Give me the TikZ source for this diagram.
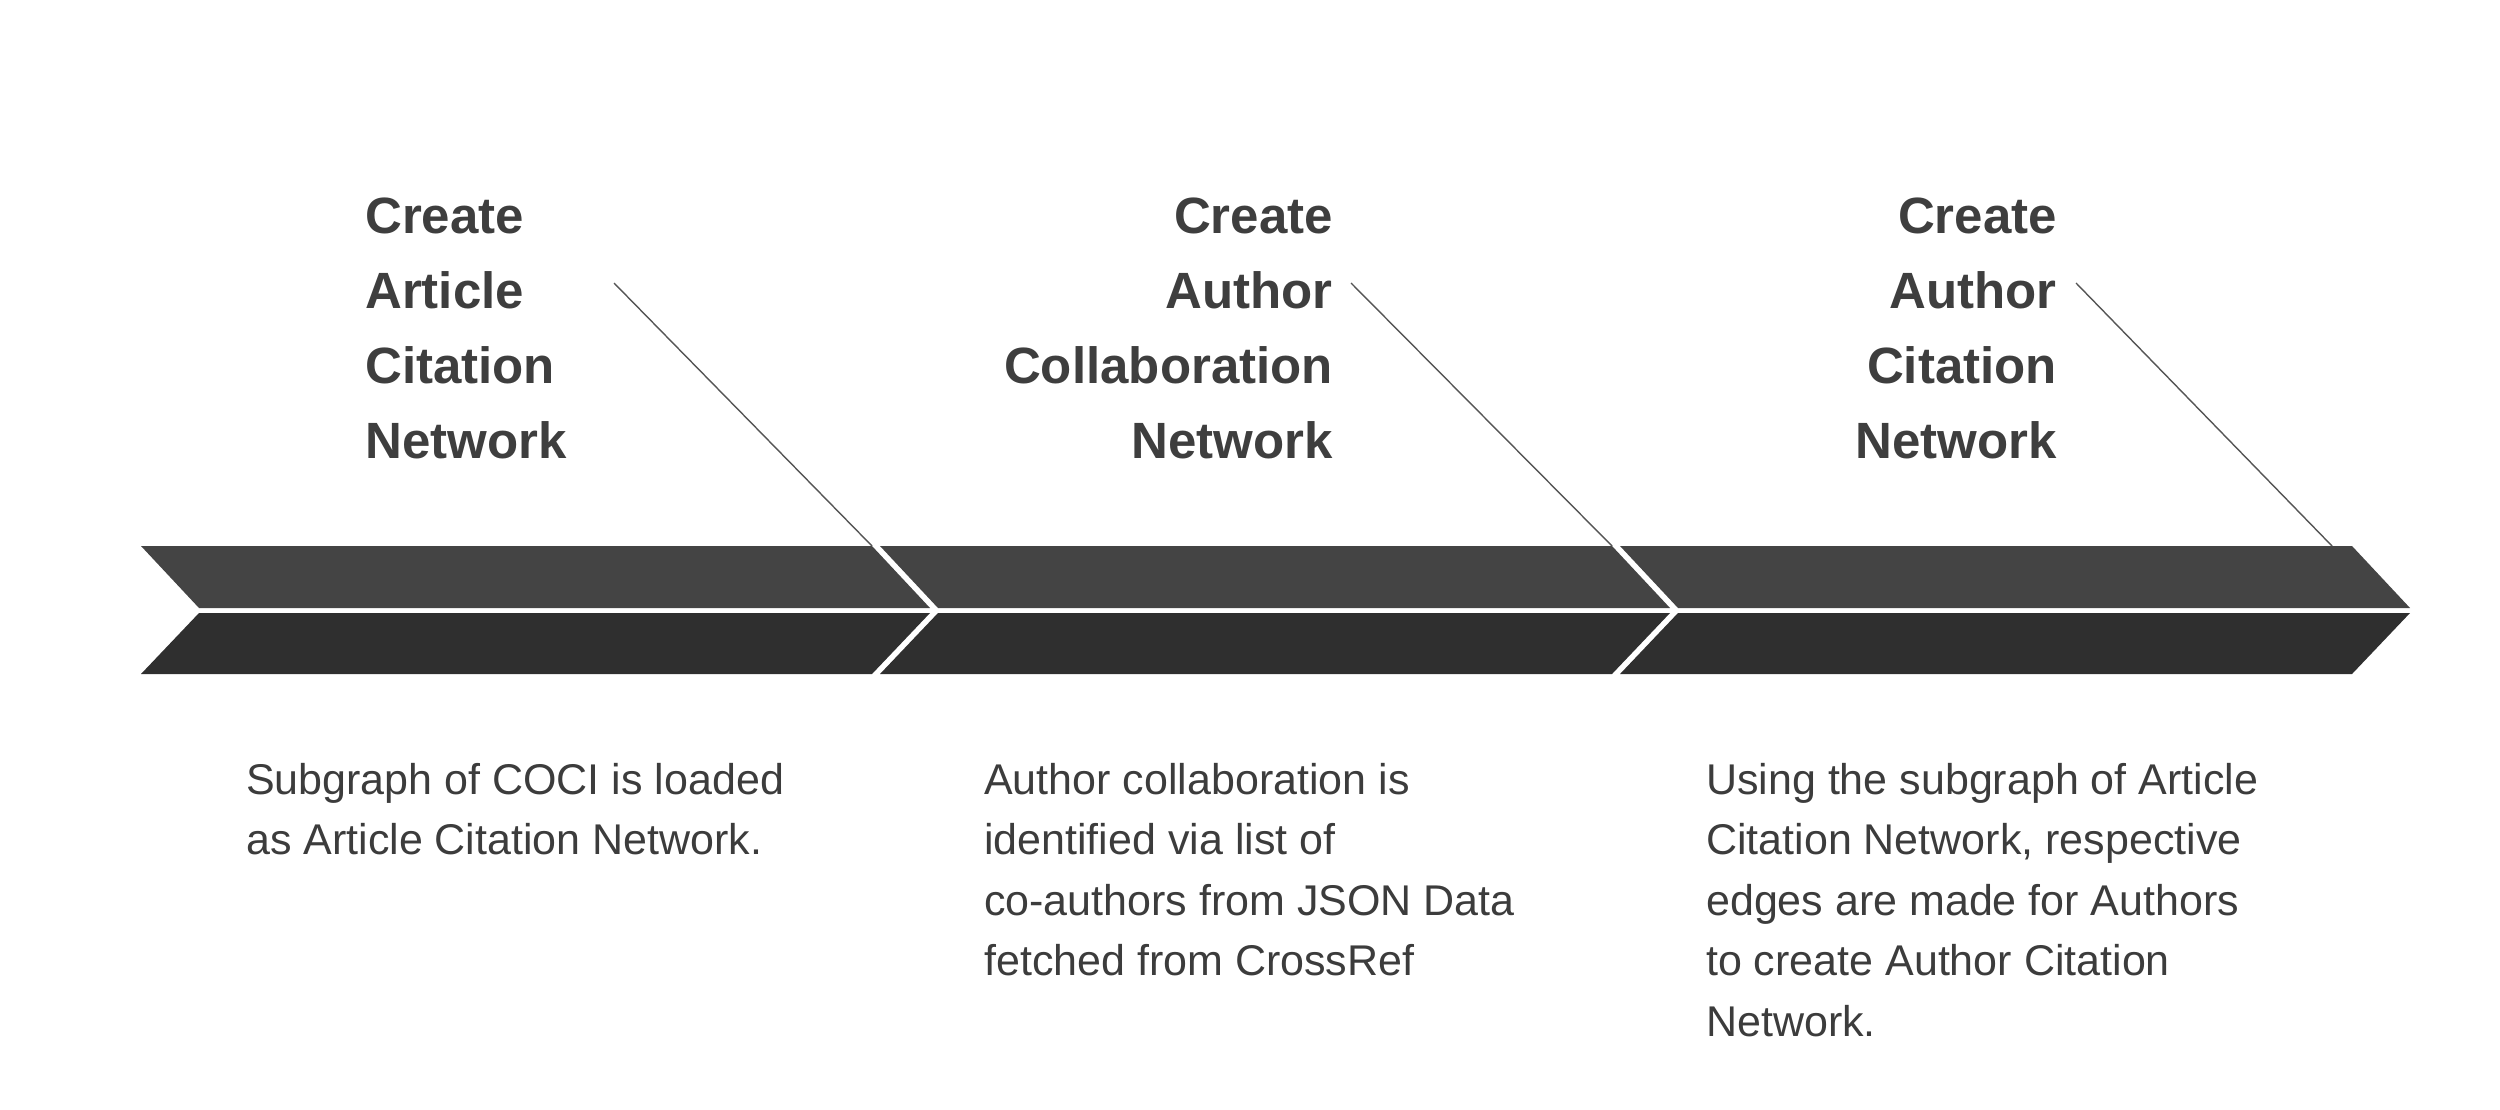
\documentclass[tikz,border=0pt]{standalone}
\usepackage{fontspec}
\setmainfont{Liberation Sans}
\definecolor{bandtop}{HTML}{444444}
\definecolor{bandbot}{HTML}{2F2F2F}
\definecolor{headc}{HTML}{3E3E3E}
\definecolor{bodyc}{HTML}{3C3C3C}
\definecolor{leadc}{HTML}{555555}
\tikzset{
  headtxt/.style={inner sep=0pt, text=headc, font=\bfseries\fontsize{51}{75}\selectfont},
  bodytxt/.style={inner sep=0pt, text=bodyc, align=left, font=\fontsize{43}{60.5}\selectfont},
  leader/.style={draw=leadc, line width=1.4pt},
  topband/.style={fill=bandtop},
  botband/.style={fill=bandbot}
}
\begin{document}
\begin{tikzpicture}[x=1pt,y=-1pt]
\useasboundingbox (0,0) rectangle (2500,1110);
% bands
\foreach \L/\R in {141/872, 880/1612, 1620/2352}{
  \fill[topband] (\L,546) -- (\R,546) -- (\R+58,608) -- (\L+58,608) -- cycle;
  \fill[botband] (\L+58,613) -- (\R+58,613) -- (\R,674) -- (\L,674) -- cycle;
}
% headings (anchor at baseline of last line)
\node[headtxt, align=left, anchor=base west] (h1) at (365,458) {Create\\Article\\Citation\\Network};
\node[headtxt, align=right, anchor=base east] (h2) at (1333,458) {Create\\Author\\Collaboration\\Network};
\node[headtxt, align=right, anchor=base east] (h3) at (2057,458) {Create\\Author\\Citation\\Network};
% leader lines
\coordinate (s1) at (614,283); \coordinate (e1) at (872,546);
\coordinate (s2) at (1351,283); \coordinate (e2) at (1612,546);
\coordinate (s3) at (2076,283); \coordinate (e3) at (2332,546);
\draw[leader] (s1) -- (e1);
\draw[leader] (s2) -- (e2);
\draw[leader] (s3) -- (e3);
% descriptions (anchor at baseline of last line)
\node[bodytxt, anchor=base west] (d1) at (246,854.5) {Subgraph of COCI is loaded\\as Article Citation Network.};
\node[bodytxt, anchor=base west] (d2) at (984,975.5) {Author collaboration is\\identified via list of\\co-authors from JSON Data\\fetched from CrossRef};
\node[bodytxt, anchor=base west] (d3) at (1706,1036) {Using the subgraph of Article\\Citation Network, respective\\edges are made for Authors\\to create Author Citation\\Network.};
\end{tikzpicture}
\end{document}
